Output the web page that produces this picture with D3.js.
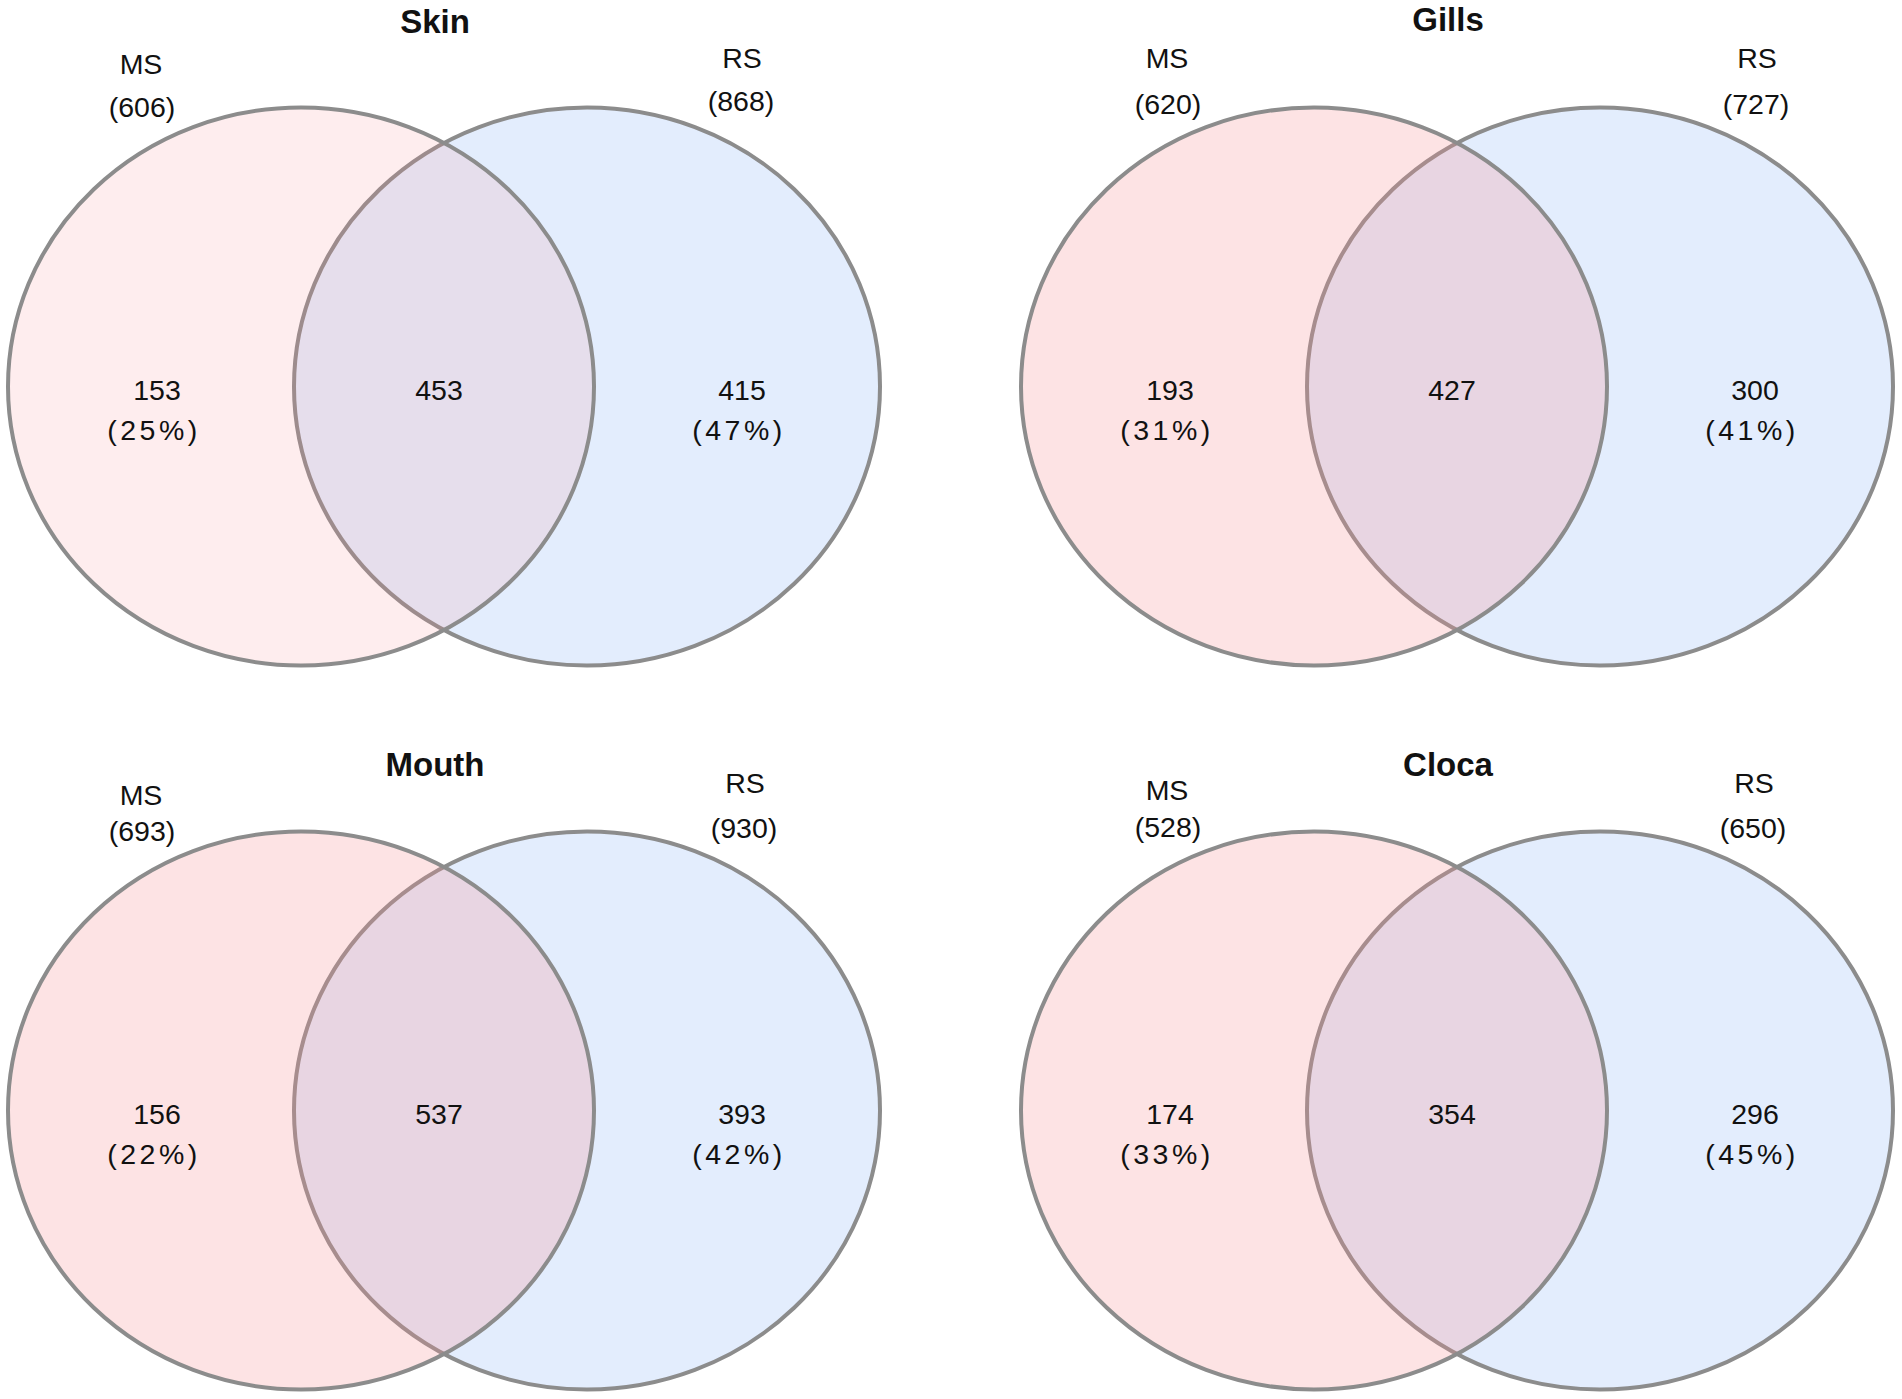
<!DOCTYPE html>
<html>
<head>
<meta charset="utf-8">
<script src="https://cdn.jsdelivr.net/npm/d3@7"></script>
<style>
  body { margin: 0; background: #fff; }
  text { font-family: "Liberation Sans", Arial, sans-serif; fill: #111; }
</style>
</head>
<body>
<div class="canvas"></div>
<script>
// data
const panels = ["Skin", "Gills", "Mouth", "Cloca"];
const sets = ["MS", "RS"];
const msTotal = [606, 620, 693, 528];
const rsTotal = [868, 727, 930, 650];
const msOnly = [153, 193, 156, 174];
const shared = [453, 427, 537, 354];
const rsOnly = [415, 300, 393, 296];
const msOnlyPct = ["25%", "31%", "22%", "33%"];
const rsOnlyPct = ["47%", "41%", "42%", "45%"];

// layout (kept apart from the data)
const svgWidth = 1902;
const svgHeight = 1399;
const rx = 293;
const ry = 279;
const gap = 286; // distance between the two ellipse centres
const labelSize = "28.5px";
const layout = [
  { col: 0, row: 0, pinkOpacity: 0.16, titleDy: -354, msDx: -160, msDy: -313, msNDy: -270, rsDx: 155, rsDy: -319, rsNDy: -276 },
  { col: 1, row: 0, pinkOpacity: 0.25, titleDy: -356, msDx: -147, msDy: -319, msNDy: -273, rsDx: 157, rsDy: -319, rsNDy: -273 },
  { col: 0, row: 1, pinkOpacity: 0.25, titleDy: -335, msDx: -160, msDy: -306, msNDy: -270, rsDx: 158, rsDy: -318, rsNDy: -273 },
  { col: 1, row: 1, pinkOpacity: 0.25, titleDy: -335, msDx: -147, msDy: -311, msNDy: -274, rsDx: 154, rsDy: -318, rsNDy: -273 }
];

const colX = d3.scaleLinear().domain([0, 1]).range([301, 1314]);
const rowY = d3.scaleLinear().domain([0, 1]).range([386.5, 1110.5]);
// x of each set's ellipse centre, relative to the panel
const setX = d3.scalePoint().domain(sets).range([0, gap]);

const svg = d3
  .select(".canvas")
  .append("svg")
  .attr("width", svgWidth)
  .attr("height", svgHeight);

const data = panels.map((name, i) => ({
  name,
  i,
  lay: layout[i],
  msTotal: msTotal[i],
  rsTotal: rsTotal[i],
  msOnly: msOnly[i],
  shared: shared[i],
  rsOnly: rsOnly[i],
  msPct: msOnlyPct[i],
  rsPct: rsOnlyPct[i]
}));

const g = svg
  .selectAll("g.panel")
  .data(data)
  .enter()
  .append("g")
  .attr("class", "panel")
  .attr("transform", d => `translate(${colX(d.lay.col)}, ${rowY(d.lay.row)})`);

// RS ellipse underneath
g.append("ellipse")
  .attr("cx", setX("RS"))
  .attr("cy", 0)
  .attr("rx", rx)
  .attr("ry", ry)
  .attr("fill", "#e3edfd")
  .attr("stroke", "#8c8c8c")
  .attr("stroke-width", 4);

// MS ellipse on top, translucent
g.append("ellipse")
  .attr("cx", setX("MS"))
  .attr("cy", 0)
  .attr("rx", rx)
  .attr("ry", ry)
  .attr("fill", "rgb(247,143,147)")
  .attr("fill-opacity", d => d.lay.pinkOpacity)
  .attr("stroke", "#8c8c8c")
  .attr("stroke-width", 4);

// titles
g.append("text")
  .attr("x", gap / 2 - 9)
  .attr("y", d => d.lay.titleDy)
  .attr("text-anchor", "middle")
  .style("font-size", "33px")
  .style("font-weight", "bold")
  .text(d => d.name);

// set names and totals
g.append("text")
  .attr("x", d => setX("MS") + d.lay.msDx)
  .attr("y", d => d.lay.msDy)
  .attr("text-anchor", "middle")
  .style("font-size", labelSize)
  .text(sets[0]);
g.append("text")
  .attr("x", d => setX("MS") + d.lay.msDx + 1)
  .attr("y", d => d.lay.msNDy)
  .attr("text-anchor", "middle")
  .style("font-size", labelSize)
  .text(d => `(${d.msTotal})`);
g.append("text")
  .attr("x", d => setX("RS") + d.lay.rsDx)
  .attr("y", d => d.lay.rsDy)
  .attr("text-anchor", "middle")
  .style("font-size", labelSize)
  .text(sets[1]);
g.append("text")
  .attr("x", d => setX("RS") + d.lay.rsDx - 1)
  .attr("y", d => d.lay.rsNDy)
  .attr("text-anchor", "middle")
  .style("font-size", labelSize)
  .text(d => `(${d.rsTotal})`);

// region counts
const regions = [
  { key: "msOnly", pct: "msPct", x: () => setX("MS") - 144 },
  { key: "shared", pct: null, x: () => gap / 2 - 5 },
  { key: "rsOnly", pct: "rsPct", x: () => setX("RS") + 155 }
];

regions.forEach(r => {
  g.append("text")
    .attr("x", r.x())
    .attr("y", 13)
    .attr("text-anchor", "middle")
    .style("font-size", labelSize)
    .text(d => d[r.key]);
  if (r.pct) {
    g.append("text")
      .attr("x", r.x() - 3)
      .attr("y", 53)
      .attr("text-anchor", "middle")
      .style("font-size", labelSize)
      .style("letter-spacing", "3.5px")
      .text(d => `(${d[r.pct]})`);
  }
});
</script>
</body>
</html>
